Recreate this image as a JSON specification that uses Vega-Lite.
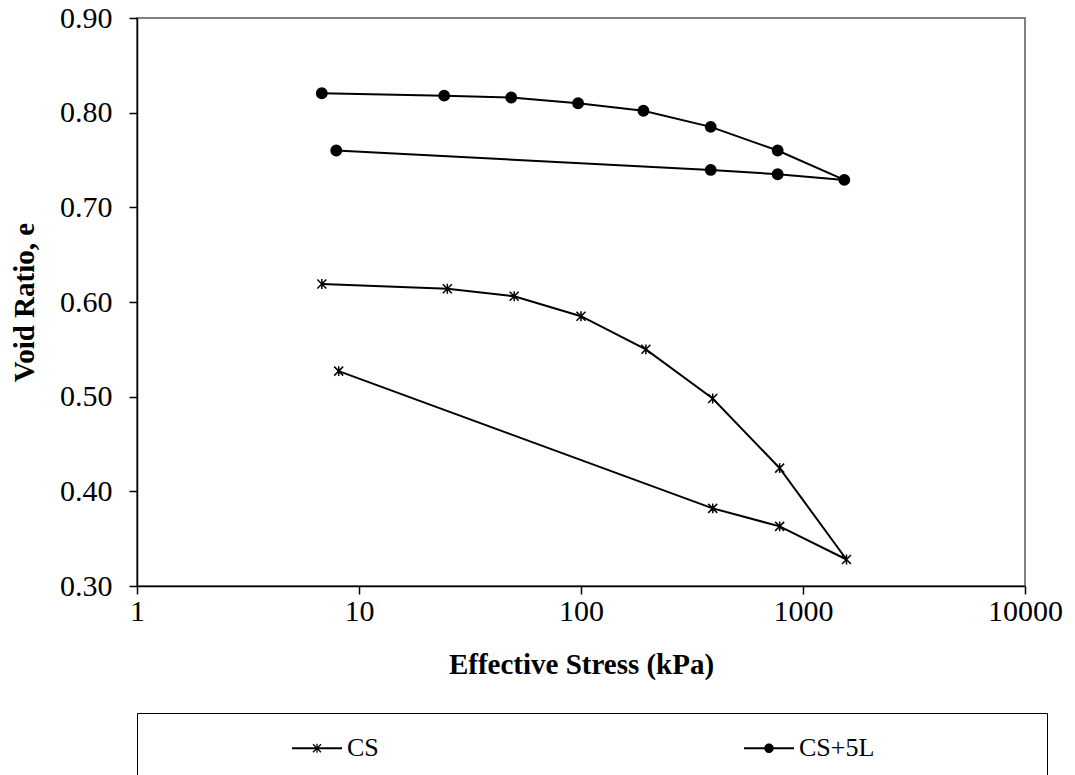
{
  "$schema": "https://vega.github.io/schema/vega-lite/v6.json",
  "width": 888,
  "height": 568,
  "autosize": {"type": "none"},
  "padding": {"left": 137, "top": 18, "right": 50, "bottom": 189},
  "background": "white",
  "config": {
    "view": {"stroke": "#808080", "strokeWidth": 2},
    "font": "Liberation Serif",
    "axis": {
      "domainColor": "black", "domainWidth": 1.5,
      "tickColor": "black", "tickWidth": 1.5, "tickSize": 8,
      "labelFont": "Liberation Serif", "labelFontSize": 30, "labelColor": "black",
      "titleFont": "Liberation Serif", "titleFontSize": 29, "titleFontWeight": "bold", "titleColor": "black",
      "grid": false, "labelFlush": false, "labelOverlap": false
    }
  },
  "data": {
    "values": [
      {"series": "CS", "idx": 0, "stress": 6.8, "e": 0.619},
      {"series": "CS", "idx": 1, "stress": 25, "e": 0.614},
      {"series": "CS", "idx": 2, "stress": 50, "e": 0.606},
      {"series": "CS", "idx": 3, "stress": 100, "e": 0.585},
      {"series": "CS", "idx": 4, "stress": 196, "e": 0.550},
      {"series": "CS", "idx": 5, "stress": 392, "e": 0.498},
      {"series": "CS", "idx": 6, "stress": 785, "e": 0.4245},
      {"series": "CS", "idx": 7, "stress": 1570, "e": 0.328},
      {"series": "CS", "idx": 8, "stress": 785, "e": 0.363},
      {"series": "CS", "idx": 9, "stress": 392, "e": 0.382},
      {"series": "CS", "idx": 10, "stress": 8.1, "e": 0.527},
      {"series": "CS+5L", "idx": 0, "stress": 6.8, "e": 0.8205},
      {"series": "CS+5L", "idx": 1, "stress": 24.2, "e": 0.818},
      {"series": "CS+5L", "idx": 2, "stress": 48.5, "e": 0.816},
      {"series": "CS+5L", "idx": 3, "stress": 97, "e": 0.810},
      {"series": "CS+5L", "idx": 4, "stress": 191, "e": 0.802},
      {"series": "CS+5L", "idx": 5, "stress": 384, "e": 0.785},
      {"series": "CS+5L", "idx": 6, "stress": 769, "e": 0.760},
      {"series": "CS+5L", "idx": 7, "stress": 1535, "e": 0.729},
      {"series": "CS+5L", "idx": 8, "stress": 769, "e": 0.735},
      {"series": "CS+5L", "idx": 9, "stress": 384, "e": 0.7395},
      {"series": "CS+5L", "idx": 10, "stress": 7.9, "e": 0.760}
    ]
  },
  "encoding": {
    "x": {
      "field": "stress", "type": "quantitative",
      "scale": {"type": "log", "domain": [1, 10000]},
      "axis": {"values": [1, 10, 100, 1000, 10000], "format": "d", "title": "Effective Stress (kPa)", "labelPadding": 2, "titlePadding": 24}
    },
    "y": {
      "field": "e", "type": "quantitative",
      "scale": {"domain": [0.3, 0.9], "zero": false},
      "axis": {"values": [0.3, 0.4, 0.5, 0.6, 0.7, 0.8, 0.9], "format": ".2f", "title": "Void Ratio, e", "labelPadding": 17, "titlePadding": 20}
    }
  },
  "layer": [
    {
      "mark": {"type": "line", "color": "black", "strokeWidth": 2},
      "encoding": {
        "detail": {"field": "series"},
        "order": {"field": "idx", "type": "quantitative"}
      }
    },
    {
      "mark": {"type": "point", "filled": true, "fill": "black", "stroke": "black", "strokeWidth": 1.5, "opacity": 1, "size": 81},
      "encoding": {
        "shape": {
          "field": "series", "type": "nominal",
          "scale": {
            "domain": ["CS", "CS+5L"],
            "range": ["M-1,-1L1,1M-1,1L1,-1M0,-1.1L0,1.1", "M1.15,0A1.15,1.15,0,1,1,-1.15,0A1.15,1.15,0,1,1,1.15,0Z"]
          },
          "legend": null
        }
      }
    },
    {
      "transform": [{"filter": "false"}],
      "mark": {"type": "point", "filled": true, "fill": "black", "opacity": 1, "size": 2500},
      "encoding": {
        "shape": {
          "field": "series", "type": "nominal",
          "scale": {
            "domain": ["CS", "CS+5L"],
            "range": [
              "M0,-0.9M-1,-0.04L1,-0.04L1,0.04L-1,0.04ZM-0.1777,-0.1423L-0.1423,-0.1777L0.1777,0.1423L0.1423,0.1777ZM-0.1423,0.1777L-0.1777,0.1423L0.1423,-0.1777L0.1777,-0.1423ZM-0.025,-0.18L0.025,-0.18L0.025,0.18L-0.025,0.18ZM0,0.9",
              "M0,-0.9M-1,-0.04L1,-0.04L1,0.04L-1,0.04ZM0.19,0A0.19,0.19,0,1,1,-0.19,0A0.19,0.19,0,1,1,0.19,0ZM10.7,0.9"
            ]
          },
          "legend": {
            "orient": "none", "legendX": 0, "legendY": 695,
            "direction": "horizontal", "columns": 2, "title": null,
            "strokeColor": "black", "padding": 10,
            "symbolSize": 2500, "symbolStrokeWidth": 0,
            "symbolFillColor": "black", "symbolOpacity": 1,
            "labelFont": "Liberation Serif", "labelFontSize": 26, "labelColor": "black", "labelLimit": 500,
            "symbolOffset": 145, "labelOffset": 5, "columnPadding": 220,
            "encode": {
              "symbols": {"fill": {"value": "black"}},
              "legend": {"strokeWidth": {"value": 1.5}}
            }
          }
        }
      }
    }
  ],
  "resolve": {"scale": {"shape": "independent"}, "legend": {"shape": "independent"}}
}
